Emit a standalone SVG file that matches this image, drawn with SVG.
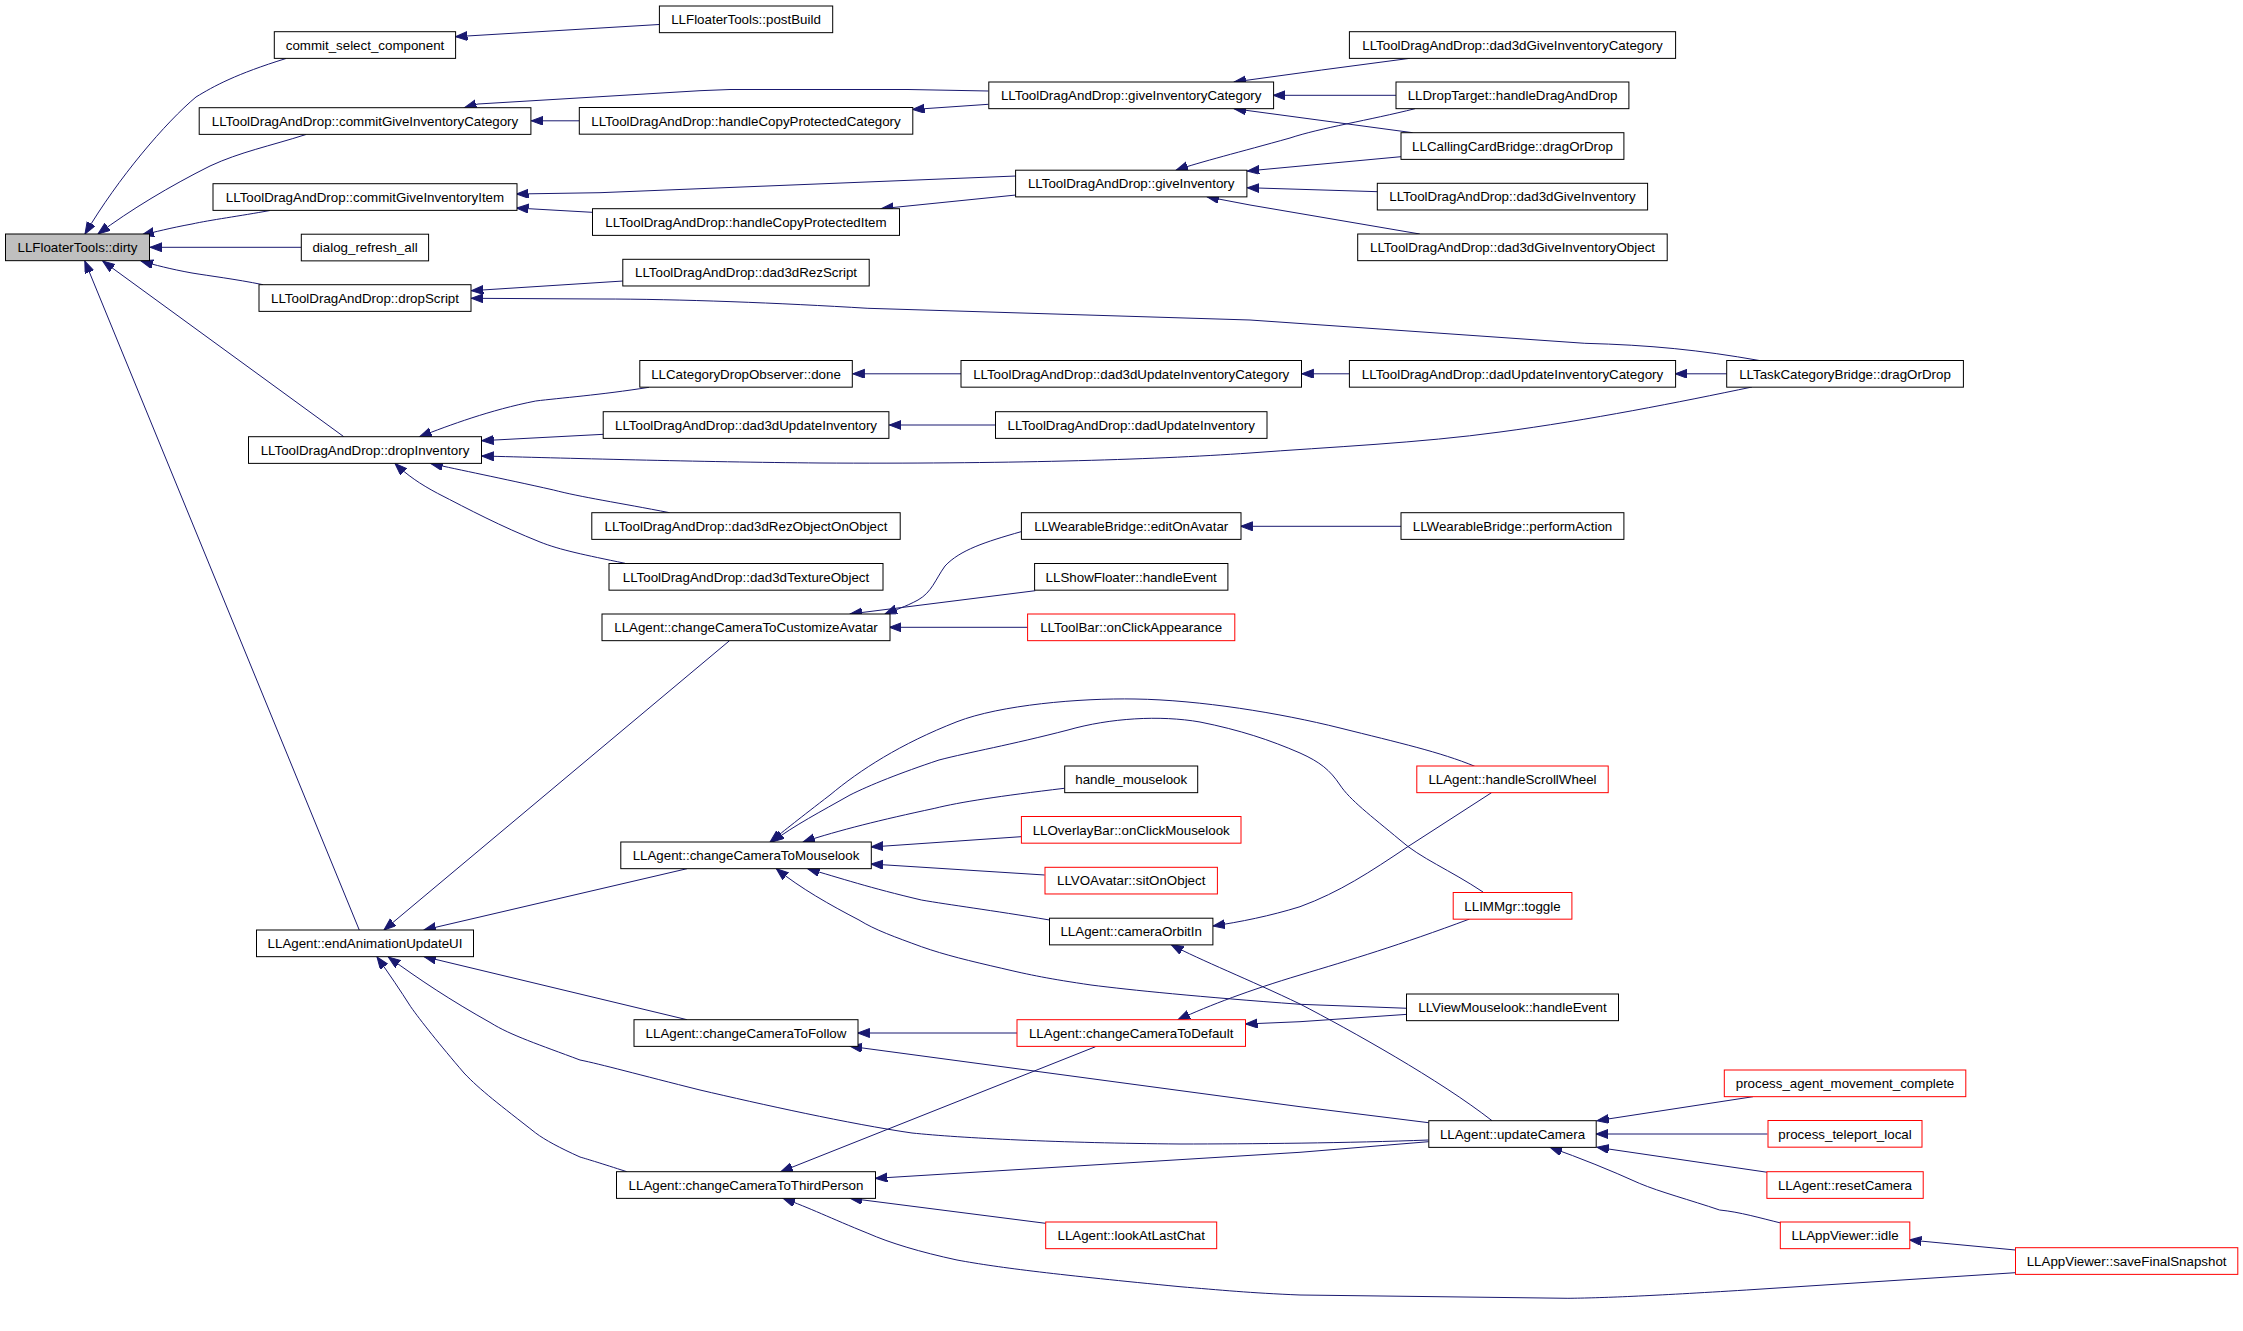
<svg xmlns="http://www.w3.org/2000/svg" width="2243" height="1331" viewBox="0 0 2243 1331">
<style>
.n rect{fill:#fff;stroke:#000;stroke-width:1}
.n.r rect{stroke:#ff0000}
.n.g rect{fill:#bfbfbf}
.n text{font-family:"Liberation Sans",Arial,Helvetica,sans-serif;font-size:13.33px;fill:#000;text-anchor:middle}
#edges path{fill:none;stroke:#191970;stroke-width:1;marker-end:url(#a)}
</style>
<defs>
<marker id="a" markerWidth="14" markerHeight="12" refX="12" refY="4.5" orient="auto" markerUnits="userSpaceOnUse">
<path d="M0,0 L12,4.5 L0,9 z" fill="#191970" stroke="#191970" stroke-width="1"/>
</marker>
</defs>
<rect width="2243" height="1331" fill="#fff"/>
<g id="edges">
<path d="M286,58.5 C236,74 214,86 196,97 C166,122 118,178 85,234"/>
<path d="M306,134.5 C270,146 240,152 210,166 C170,186 130,210 98,234"/>
<path d="M270,210.5 C240,216 210,220 192,224 C170,228 155,232 142,235"/>
<path d="M301,247.3 L150,247.3"/>
<path d="M263,284.7 C235,279 210,276 192,273 C170,269 155,265 141,261"/>
<path d="M343.8,436.7 L102.7,261"/>
<path d="M359.4,930.3 L84.8,261"/>
<path d="M659,24.5 L455.5,36.7"/>
<path d="M988.4,91 L908,89.5 L730,89.5 L700,90.7 L478,104 L464.5,107.7"/>
<path d="M579,120.8 L531.3,120.8"/>
<path d="M988.4,104.3 L912.5,109.5"/>
<path d="M1410,58.3 L1321.7,70 L1234,82"/>
<path d="M1395.9,95.3 L1273.2,95.3"/>
<path d="M1412.6,132.7 L1234,108.7"/>
<path d="M1415,108.7 C1370,120 1320,128 1290,138 C1240,152 1200,162 1176,170.2"/>
<path d="M1401,156.7 L1247.3,171"/>
<path d="M1377.7,191.7 L1247.3,187.7"/>
<path d="M1419.8,234 L1250,205 L1207,196.8"/>
<path d="M1016,176 L600,192.7 L516.5,194"/>
<path d="M592,212.3 L516.5,208"/>
<path d="M1016,195 L881.3,208.7"/>
<path d="M623.2,281 L471.4,290.7"/>
<path d="M1759.4,360.5 C1700,350 1650,345 1584.8,343.3 L1250,320 L867.9,308.3 C780,303 680,299 600,299 L471.4,298.3"/>
<path d="M649,387.3 C600,395 560,398 535.7,401 C490,410 450,425 419.6,436.7"/>
<path d="M603.6,434.3 L481.7,440.7"/>
<path d="M1752,387 C1680,402 1590,420 1500,432 C1420,443 1330,447 1250,453 C1150,460 1000,464 820,463 C700,462 560,458 481.7,456"/>
<path d="M669.6,512.7 C620,503 580,497 553.6,490 C500,478 460,470 430.8,463.5"/>
<path d="M625,563.3 C585,555 560,550 540,542 C500,526 470,510 437.5,493.3 C420,484 407,475 395,463.5"/>
<path d="M1021,531.7 C985,542 960,550 945,566 C935,580 932,592 918,600 C905,607 895,610 885,614"/>
<path d="M1035.3,590.7 L850,614"/>
<path d="M1028.1,627.3 L889.3,627.3"/>
<path d="M1401.1,526.3 L1240.6,526.3"/>
<path d="M995.5,425 L889.3,425"/>
<path d="M961.2,373.8 L852.7,373.8"/>
<path d="M1349,373.8 L1301.7,373.8"/>
<path d="M1726.9,373.8 L1675.2,373.8"/>
<path d="M729.5,640.7 L383.9,930"/>
<path d="M687,868.7 L424,930"/>
<path d="M687,1019.7 L424,956.6"/>
<path d="M1428.6,1140 C1350,1143 1250,1144 1180,1144 C1060,1143 960,1138 912,1133 C850,1124 760,1104 700,1090 C640,1075 600,1064 580,1060 C540,1045 510,1035 491,1023 C450,1000 420,980 388.4,957"/>
<path d="M626.8,1171.7 C600,1163 590,1160 580,1157 C560,1148 545,1140 535.7,1133 C500,1105 480,1090 464,1073 C440,1045 420,1020 410.7,1006.7 C400,990 390,975 377,957"/>
<path d="M1474.8,766.3 C1440,752 1400,743 1340,728 C1280,713 1200,700 1135,699 C1080,698 1000,705 957,721.7 C900,744 860,770 830,795 C800,818 785,830 770,842"/>
<path d="M1483,892 C1450,870 1420,858 1400,840 C1370,815 1350,800 1340,785 C1330,770 1320,762 1300,753 C1270,740 1240,730 1200,722 C1160,715 1110,718 1068,730 C1010,745 970,752 939,760 C900,773 870,785 850,795 C820,812 795,825 772,842"/>
<path d="M1064.3,788.3 C1000,796 960,802 934.8,808.3 C880,820 840,830 803,842"/>
<path d="M1021,836.7 L871,847"/>
<path d="M1044.6,875 L871,864"/>
<path d="M1049.6,920 C990,910 950,905 921.4,900 C870,888 840,878 807.6,868.7"/>
<path d="M1407.6,1008.3 L1300,1004.3 C1200,997 1130,990 1091,985 C1050,979 1030,975 1001.8,968.3 C970,961 945,955 921.4,946.7 C895,937 875,930 859,920 C830,905 800,888 776.3,868.7"/>
<path d="M1491.5,792.7 L1407.8,846.7 C1370,872 1340,892 1300,906.7 C1270,916 1240,922 1213,926"/>
<path d="M1017,1033 L857.6,1033"/>
<path d="M1428.6,1122.7 L1300,1106.7 L850,1046.3"/>
<path d="M1407.6,1014.3 L1300,1021.7 L1245.5,1024"/>
<path d="M1469.6,919 C1400,945 1350,960 1300,975 C1250,990 1210,1005 1178,1019.7"/>
<path d="M1492,1120.7 C1440,1080 1350,1030 1300,1004 C1250,980 1200,960 1171.4,944.8"/>
<path d="M1753,1096.7 L1596.9,1120.7"/>
<path d="M1767.4,1134 L1596,1134"/>
<path d="M1767.4,1172.3 L1596.9,1147.3"/>
<path d="M1782,1223.3 C1760,1218 1740,1212 1719.6,1210 C1690,1200 1660,1192 1639.3,1183.3 C1610,1170 1580,1158 1550,1147.3"/>
<path d="M1095.5,1046.7 L780.8,1171.7"/>
<path d="M1428.6,1141.7 L1300,1152.3 L875.4,1178.3"/>
<path d="M1045.5,1223.3 L850,1198.3"/>
<path d="M2015.4,1272.7 L1746.4,1290 C1650,1296 1600,1298 1567.9,1298.3 L1300,1295 C1250,1293 1220,1290 1180,1286.7 C1060,1275 1000,1268 957,1260 C920,1252 890,1243 867.9,1233.3 C830,1218 810,1208 783,1198.3"/>
<path d="M2015.4,1250 L1909.5,1240"/>
</g>
<g id="n_dirty" class="n g"><rect x="5.5" y="234" width="144" height="26.67"/><text x="77.5" y="252">LLFloaterTools::dirty</text></g>
<g id="n_commit_select_component" class="n"><rect x="274.3" y="31.7" width="181.3" height="26.67"/><text x="365" y="49.7">commit_select_component</text></g>
<g id="n_commitGiveInventoryCategory" class="n"><rect x="199.2" y="107.7" width="331.7" height="26.67"/><text x="365" y="125.7">LLToolDragAndDrop::commitGiveInventoryCategory</text></g>
<g id="n_commitGiveInventoryItem" class="n"><rect x="213" y="183.7" width="304" height="26.67"/><text x="365" y="201.7">LLToolDragAndDrop::commitGiveInventoryItem</text></g>
<g id="n_dialog_refresh_all" class="n"><rect x="301.3" y="234.2" width="127.3" height="26.67"/><text x="365" y="252.2">dialog_refresh_all</text></g>
<g id="n_dropScript" class="n"><rect x="259" y="284.7" width="212" height="26.67"/><text x="365" y="302.7">LLToolDragAndDrop::dropScript</text></g>
<g id="n_dropInventory" class="n"><rect x="248.5" y="436.7" width="233" height="26.67"/><text x="365" y="454.7">LLToolDragAndDrop::dropInventory</text></g>
<g id="n_endAnimationUpdateUI" class="n"><rect x="256.5" y="930" width="217" height="26.67"/><text x="365" y="948">LLAgent::endAnimationUpdateUI</text></g>
<g id="n_postBuild" class="n"><rect x="659.4" y="6" width="173.3" height="26.67"/><text x="746" y="24">LLFloaterTools::postBuild</text></g>
<g id="n_handleCopyProtectedCategory" class="n"><rect x="579.3" y="107.5" width="333.5" height="26.67"/><text x="746" y="125.5">LLToolDragAndDrop::handleCopyProtectedCategory</text></g>
<g id="n_handleCopyProtectedItem" class="n"><rect x="592.5" y="208.7" width="307" height="26.67"/><text x="746" y="226.7">LLToolDragAndDrop::handleCopyProtectedItem</text></g>
<g id="n_dad3dRezScript" class="n"><rect x="622.8" y="259.3" width="246.4" height="26.67"/><text x="746" y="277.3">LLToolDragAndDrop::dad3dRezScript</text></g>
<g id="n_done" class="n"><rect x="639.8" y="360.5" width="212.5" height="26.67"/><text x="746" y="378.5">LLCategoryDropObserver::done</text></g>
<g id="n_dad3dUpdateInventory" class="n"><rect x="603.2" y="411.7" width="285.7" height="26.67"/><text x="746" y="429.7">LLToolDragAndDrop::dad3dUpdateInventory</text></g>
<g id="n_dad3dRezObjectOnObject" class="n"><rect x="591.8" y="512.7" width="308.4" height="26.67"/><text x="746" y="530.7">LLToolDragAndDrop::dad3dRezObjectOnObject</text></g>
<g id="n_dad3dTextureObject" class="n"><rect x="609" y="563.5" width="274" height="26.67"/><text x="746" y="581.5">LLToolDragAndDrop::dad3dTextureObject</text></g>
<g id="n_changeCameraToCustomizeAvatar" class="n"><rect x="602" y="614" width="288" height="26.67"/><text x="746" y="632">LLAgent::changeCameraToCustomizeAvatar</text></g>
<g id="n_changeCameraToMouselook" class="n"><rect x="620.8" y="842" width="250.5" height="26.67"/><text x="746" y="860">LLAgent::changeCameraToMouselook</text></g>
<g id="n_changeCameraToFollow" class="n"><rect x="634" y="1019.7" width="224" height="26.67"/><text x="746" y="1037.7">LLAgent::changeCameraToFollow</text></g>
<g id="n_changeCameraToThirdPerson" class="n"><rect x="616.5" y="1171.7" width="259" height="26.67"/><text x="746" y="1189.7">LLAgent::changeCameraToThirdPerson</text></g>
<g id="n_giveInventoryCategory" class="n"><rect x="988.8" y="82" width="284.8" height="26.67"/><text x="1131.2" y="100">LLToolDragAndDrop::giveInventoryCategory</text></g>
<g id="n_giveInventory" class="n"><rect x="1015.6" y="170.2" width="231.3" height="26.67"/><text x="1131.2" y="188.2">LLToolDragAndDrop::giveInventory</text></g>
<g id="n_dad3dUpdateInventoryCategory" class="n"><rect x="961" y="360.5" width="340.5" height="26.67"/><text x="1131.2" y="378.5">LLToolDragAndDrop::dad3dUpdateInventoryCategory</text></g>
<g id="n_dadUpdateInventory" class="n"><rect x="995.5" y="411.7" width="271.5" height="26.67"/><text x="1131.2" y="429.7">LLToolDragAndDrop::dadUpdateInventory</text></g>
<g id="n_editOnAvatar" class="n"><rect x="1021.4" y="512.7" width="219.6" height="26.67"/><text x="1131.2" y="530.7">LLWearableBridge::editOnAvatar</text></g>
<g id="n_LLShowFloater_handleEvent" class="n"><rect x="1034.6" y="563.5" width="193.3" height="26.67"/><text x="1131.2" y="581.5">LLShowFloater::handleEvent</text></g>
<g id="n_onClickAppearance" class="n r"><rect x="1027.6" y="614" width="207.2" height="26.67"/><text x="1131.2" y="632">LLToolBar::onClickAppearance</text></g>
<g id="n_handle_mouselook" class="n"><rect x="1064.7" y="766" width="133" height="26.67"/><text x="1131.2" y="784">handle_mouselook</text></g>
<g id="n_onClickMouselook" class="n r"><rect x="1021.4" y="816.5" width="219.6" height="26.67"/><text x="1131.2" y="834.5">LLOverlayBar::onClickMouselook</text></g>
<g id="n_sitOnObject" class="n r"><rect x="1045" y="867.3" width="172.4" height="26.67"/><text x="1131.2" y="885.3">LLVOAvatar::sitOnObject</text></g>
<g id="n_cameraOrbitIn" class="n"><rect x="1049.5" y="918.2" width="163.4" height="26.67"/><text x="1131.2" y="936.2">LLAgent::cameraOrbitIn</text></g>
<g id="n_changeCameraToDefault" class="n r"><rect x="1017" y="1019.7" width="228.5" height="26.67"/><text x="1131.2" y="1037.7">LLAgent::changeCameraToDefault</text></g>
<g id="n_lookAtLastChat" class="n r"><rect x="1045.7" y="1222" width="171" height="26.67"/><text x="1131.2" y="1240">LLAgent::lookAtLastChat</text></g>
<g id="n_dad3dGiveInventoryCategory" class="n"><rect x="1349.4" y="31.7" width="326.2" height="26.67"/><text x="1512.5" y="49.7">LLToolDragAndDrop::dad3dGiveInventoryCategory</text></g>
<g id="n_handleDragAndDrop" class="n"><rect x="1396" y="82" width="232.9" height="26.67"/><text x="1512.5" y="100">LLDropTarget::handleDragAndDrop</text></g>
<g id="n_LLCallingCardBridge_dragOrDrop" class="n"><rect x="1401" y="132.7" width="222.9" height="26.67"/><text x="1512.5" y="150.7">LLCallingCardBridge::dragOrDrop</text></g>
<g id="n_dad3dGiveInventory" class="n"><rect x="1377.3" y="183.3" width="270.3" height="26.67"/><text x="1512.5" y="201.3">LLToolDragAndDrop::dad3dGiveInventory</text></g>
<g id="n_dad3dGiveInventoryObject" class="n"><rect x="1357.7" y="234" width="309.5" height="26.67"/><text x="1512.5" y="252">LLToolDragAndDrop::dad3dGiveInventoryObject</text></g>
<g id="n_dadUpdateInventoryCategory" class="n"><rect x="1349.4" y="360.5" width="326.2" height="26.67"/><text x="1512.5" y="378.5">LLToolDragAndDrop::dadUpdateInventoryCategory</text></g>
<g id="n_performAction" class="n"><rect x="1401" y="512.7" width="222.9" height="26.67"/><text x="1512.5" y="530.7">LLWearableBridge::performAction</text></g>
<g id="n_handleScrollWheel" class="n r"><rect x="1416.8" y="766" width="191.4" height="26.67"/><text x="1512.5" y="784">LLAgent::handleScrollWheel</text></g>
<g id="n_toggle" class="n r"><rect x="1453.2" y="892.5" width="118.7" height="26.67"/><text x="1512.5" y="910.5">LLIMMgr::toggle</text></g>
<g id="n_LLViewMouselook_handleEvent" class="n"><rect x="1406.5" y="994" width="212" height="26.67"/><text x="1512.5" y="1012">LLViewMouselook::handleEvent</text></g>
<g id="n_updateCamera" class="n"><rect x="1428.8" y="1120.7" width="167.4" height="26.67"/><text x="1512.5" y="1138.7">LLAgent::updateCamera</text></g>
<g id="n_LLTaskCategoryBridge_dragOrDrop" class="n"><rect x="1726.7" y="360.5" width="236.7" height="26.67"/><text x="1845" y="378.5">LLTaskCategoryBridge::dragOrDrop</text></g>
<g id="n_process_agent_movement_complete" class="n r"><rect x="1724.3" y="1070" width="241.5" height="26.67"/><text x="1845" y="1088">process_agent_movement_complete</text></g>
<g id="n_process_teleport_local" class="n r"><rect x="1768" y="1120.5" width="154" height="26.67"/><text x="1845" y="1138.5">process_teleport_local</text></g>
<g id="n_resetCamera" class="n r"><rect x="1766.9" y="1171.7" width="156.3" height="26.67"/><text x="1845" y="1189.7">LLAgent::resetCamera</text></g>
<g id="n_idle" class="n r"><rect x="1780.3" y="1222" width="129.5" height="26.67"/><text x="1845" y="1240">LLAppViewer::idle</text></g>
<g id="n_saveFinalSnapshot" class="n r"><rect x="2015.5" y="1247.7" width="222.3" height="26.67"/><text x="2126.6" y="1265.7">LLAppViewer::saveFinalSnapshot</text></g>
</svg>
